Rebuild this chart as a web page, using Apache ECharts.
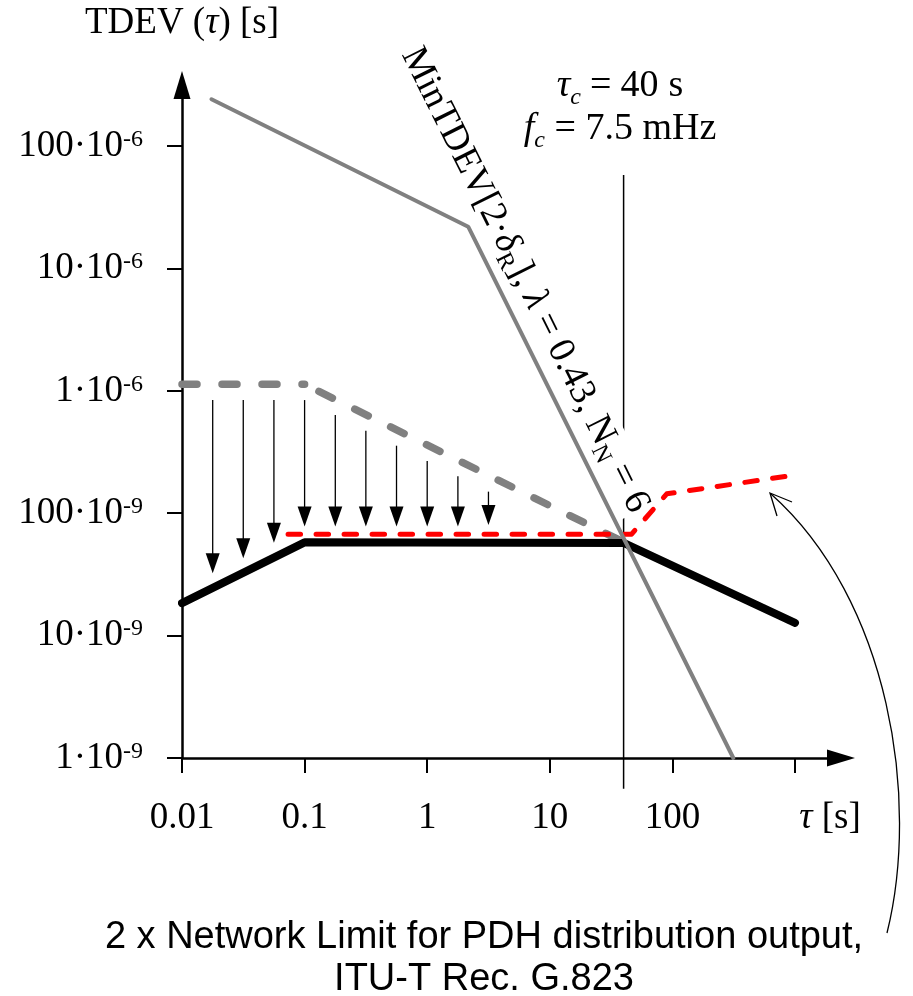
<!DOCTYPE html>
<html><head><meta charset="utf-8">
<script src="https://cdn.jsdelivr.net/npm/echarts@6/dist/echarts.min.js"></script>
<style>html,body{margin:0;padding:0;background:#fff}#c{width:913px;height:996px}</style>
</head><body><div id="c"></div><script>
// ---- axis ticks / labels ----
const xTicks = [0.01, 0.1, 1, 10, 100, 1000];
const xLabelValues = [0.01, 0.1, 1, 10, 100];
const xLabelTexts = ['0.01', '0.1', '1', '10', '100'];
const yTicks = [1e-9, 1e-8, 1e-7, 1e-6, 1e-5, 1e-4];
const yLabelMantissa = ['1', '10', '100', '1', '10', '100'];
const yLabelExponent = ['-9', '-9', '-9', '-6', '-6', '-6'];

// ---- series values (tau [s], TDEV [s]) ----
const minTdevX = [0.0174, 2.16, 314];
const minTdevY = [2.41e-4, 2.19e-5, 1e-9];
const boundFlatX = [0.01, 0.1];
const boundFlatY = [1.13e-6, 1.13e-6];
const boundSlopeX = [0.1, 40];
const boundSlopeY = [1.13e-6, 5.8e-8];
const tdevX = [0.01, 0.1, 40, 1000];
const tdevY = [1.84e-8, 5.78e-8, 5.71e-8, 1.27e-8];
const limitX = [0.0733, 46.5, 90, 1000];
const limitY = [6.74e-8, 6.74e-8, 1.44e-7, 2.05e-7];
const cornerX = [40, 40];
const cornerY = [5.6e-10, 5.8e-5];
const arrowX = [0.0178, 0.0316, 0.0562, 0.1, 0.178, 0.316, 0.562, 1, 1.78, 3.16];
const arrowFrom = [8.4e-7, 8.4e-7, 8.4e-7, 8.4e-7, 6.35e-7, 4.72e-7, 3.56e-7, 2.67e-7, 2.0e-7, 1.5e-7];
const arrowTo = [3.23e-8, 4.28e-8, 5.74e-8, 7.8e-8, 7.8e-8, 7.8e-8, 7.8e-8, 7.8e-8, 7.8e-8, 8.0e-8];

const zip = (xs, ys) => xs.map((x, i) => [x, ys[i]]);
const SERIF = 'Liberation Serif, Times New Roman, serif';
const SANS = 'Liberation Sans, Arial, sans-serif';
const GRAY = '#808080';

const chart = echarts.init(document.getElementById('c'), null, {renderer: 'canvas'});

const lineBase = (data, color, width, z, extra) => Object.assign({
  type: 'line', data: data, symbol: 'none', showSymbol: false, clip: false, silent: true,
  animation: false, z: z,
  lineStyle: Object.assign({color: color, width: width, cap: 'round', join: 'round'}, extra || {})
});

const option = {
  animation: false,
  backgroundColor: '#fff',
  grid: {left: 182, right: 72, top: 85, bottom: 238, containLabel: false, outerBoundsMode: 'none'},
  xAxis: {
    type: 'log', min: 0.0099999, max: 2373,
    splitLine: {show: false}, minorTick: {show: false}, minorSplitLine: {show: false},
    axisLine: {show: true, lineStyle: {color: '#000', width: 2.5}, symbol: ['none', 'triangle'], symbolSize: [17, 28]},
    axisTick: {show: true, length: 15, lineStyle: {color: '#000', width: 2}, customValues: xTicks},
    axisLabel: {
      customValues: xLabelValues, margin: 42, color: '#000', fontFamily: SERIF, fontSize: 37, lineHeight: 37,
      formatter: v => xLabelTexts[Math.round(Math.log10(v)) + 2]
    }
  },
  yAxis: {
    type: 'log', min: 0.99999e-9, max: 3.15e-4,
    splitLine: {show: false}, minorTick: {show: false}, minorSplitLine: {show: false},
    axisLine: {show: true, lineStyle: {color: '#000', width: 2.5}, symbol: ['none', 'triangle'], symbolSize: [17, 28]},
    axisTick: {show: true, length: 15, lineStyle: {color: '#000', width: 2}, customValues: yTicks},
    axisLabel: {
      customValues: yTicks, margin: 39, color: '#000', fontFamily: SERIF, fontSize: 37,
      formatter: v => {
        const i = Math.round(Math.log10(v)) + 9;
        return '{m|' + yLabelMantissa[i] + '·10}{s|' + yLabelExponent[i] + '}';
      },
      rich: {
        m: {fontFamily: SERIF, fontSize: 37, lineHeight: 37, color: '#000'},
        s: {fontFamily: SERIF, fontSize: 24, lineHeight: 37, verticalAlign: 'top', color: '#000'}
      }
    }
  },
  series: [
    lineBase(zip(cornerX, cornerY), '#000', 1.5, 2, {cap: 'butt'}),
    lineBase(zip(boundFlatX, boundFlatY), GRAY, 7.5, 3, {type: [15, 25]}),
    lineBase(zip(boundSlopeX, boundSlopeY), GRAY, 7.5, 3, {type: [15, 25], dashOffset: 24}),
    lineBase(zip(tdevX, tdevY), '#000', 8, 4),
    lineBase(zip(limitX, limitY), '#ff0000', 5, 5, {type: [12.5, 15.5]}),
    lineBase(zip(minTdevX, minTdevY), GRAY, 4, 6),
    {
      type: 'custom', coordinateSystem: 'cartesian2d', silent: true, clip: false, z: 7,
      data: arrowX.map((x, i) => [x, arrowFrom[i], arrowTo[i]]),
      encode: {x: 0, y: [1, 2]},
      renderItem: (params, api) => {
        const a = api.coord([api.value(0), api.value(1)]);
        const b = api.coord([api.value(0), api.value(2)]);
        const hl = 20, hw = 7;
        return {type: 'group', children: [
          {type: 'line', shape: {x1: a[0], y1: a[1], x2: b[0], y2: b[1] - hl + 2}, style: {stroke: '#000', lineWidth: 1.3}},
          {type: 'polygon', shape: {points: [[b[0] - hw, b[1] - hl], [b[0] + hw, b[1] - hl], [b[0], b[1]]]}, style: {fill: '#000'}}
        ]};
      }
    }
  ],
  graphic: [
    {type: 'text', x: 182, y: 23, z: 100, style: {
      text: 'TDEV ({i|τ}) [s]', fontFamily: SERIF, fontSize: 37, lineHeight: 37, fill: '#000',
      align: 'center', verticalAlign: 'middle',
      rich: {i: {fontFamily: SERIF, fontSize: 37, lineHeight: 37, fontStyle: 'italic'}}
    }},
    {type: 'text', x: 830, y: 818, z: 100, style: {
      text: '{i|τ} [s]', fontFamily: SERIF, fontSize: 37, lineHeight: 37, fill: '#000',
      align: 'center', verticalAlign: 'middle',
      rich: {i: {fontFamily: SERIF, fontSize: 37, lineHeight: 37, fontStyle: 'italic'}}
    }},
    {type: 'text', x: 620, y: 86, z: 100, style: {
      text: '{i|τ}{b|c}{e|=}{t|40}{w|s}', fill: '#000', align: 'center', verticalAlign: 'middle',
      rich: {
        t: {fontFamily: SERIF, fontSize: 38, lineHeight: 48},
        e: {fontFamily: SERIF, fontSize: 38, lineHeight: 48, padding: [0, 9, 0, 9]},
        w: {fontFamily: SERIF, fontSize: 38, lineHeight: 48, padding: [0, 0, 0, 10]},
        i: {fontFamily: SERIF, fontSize: 38, lineHeight: 48, fontStyle: 'italic'},
        b: {fontFamily: SERIF, fontSize: 24, lineHeight: 48, fontStyle: 'italic', verticalAlign: 'bottom'}
      }
    }},
    {type: 'text', x: 620, y: 129, z: 100, style: {
      text: '{i|f}{b|c}{t| = 7.5 mHz}', fill: '#000', align: 'center', verticalAlign: 'middle',
      rich: {
        t: {fontFamily: SERIF, fontSize: 38, lineHeight: 48},
        i: {fontFamily: SERIF, fontSize: 38, lineHeight: 48, fontStyle: 'italic'},
        b: {fontFamily: SERIF, fontSize: 24, lineHeight: 48, fontStyle: 'italic', verticalAlign: 'bottom'}
      }
    }},
    {type: 'text', x: 410.2, y: 49.9, rotation: -63.5 * Math.PI / 180, z: 100, style: {
      text: '{t|MinTDEV[2·}{i|δ}{b|R}{t|], }{i|λ}{t| = 0.43, N}{b|N}{t| = 6}',
      fill: '#000', align: 'left', verticalAlign: 'middle', backgroundColor: '#fff',
      rich: {
        t: {fontFamily: SERIF, fontSize: 37.5, lineHeight: 44},
        i: {fontFamily: SERIF, fontSize: 37.5, lineHeight: 44, fontStyle: 'italic'},
        b: {fontFamily: SERIF, fontSize: 24, lineHeight: 44, verticalAlign: 'bottom'}
      }
    }},
    {type: 'text', x: 484, y: 959, z: 100, style: {
      text: '2 x Network Limit for PDH distribution output,\nITU-T Rec. G.823',
      fontFamily: SANS, fontSize: 38, lineHeight: 42, fill: '#000', align: 'center', verticalAlign: 'middle'
    }},
    {type: 'bezierCurve', z: 100, shape: {x1: 887, y1: 933, cpx1: 920, cpy1: 800, cpx2: 890, cpy2: 600, x2: 771, y2: 494},
      style: {stroke: '#000', lineWidth: 1.3, fill: null}},
    {type: 'polyline', z: 100, shape: {points: [[792, 502], [770, 493], [777, 516]]},
      style: {stroke: '#000', lineWidth: 1.3, fill: null}}
  ]
};
chart.setOption(option);
</script></body></html>
